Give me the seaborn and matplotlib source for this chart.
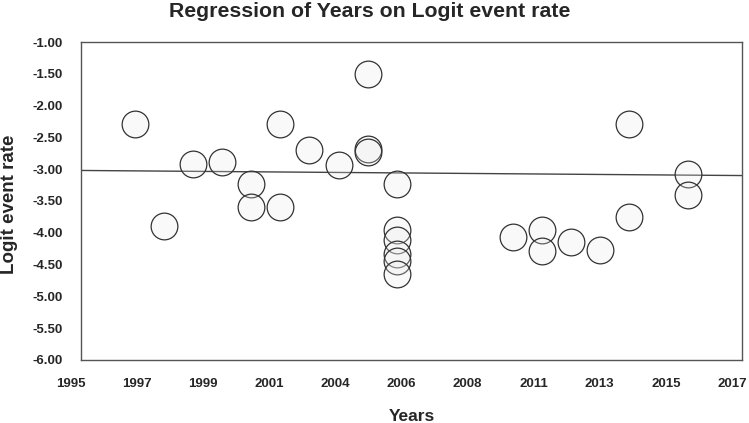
import numpy as np
import pandas as pd
import matplotlib
matplotlib.use("Agg")
import matplotlib.pyplot as plt
import matplotlib.transforms as mtransforms
import seaborn as sns

# Study points (year, logit event rate)
years = [1996.81, 1997.77, 1998.74, 1999.70, 2000.67, 2000.67, 2001.63, 2001.63,
         2002.60, 2003.58, 2004.55, 2004.55, 2004.55, 2005.52, 2005.52, 2005.52,
         2005.52, 2005.52, 2005.52, 2009.38, 2010.34, 2010.34, 2011.31, 2012.27,
         2013.25, 2013.25, 2015.19, 2015.19]
logit_rate = [-2.29, -3.89, -2.92, -2.89, -3.23, -3.59, -2.29, -3.59,
              -2.70, -2.93, -1.50, -2.68, -2.73, -3.23, -3.96, -4.12,
              -4.33, -4.44, -4.65, -4.06, -3.96, -4.29, -4.14, -4.27,
              -2.29, -3.75, -3.08, -3.41]

# Fitted regression line end points
reg_x = [1995, 2017]
reg_y = [-3.02, -3.10]

x_ticks = np.linspace(1995, 2017, 11)
x_labels = ['1995', '1997', '1999', '2001', '2004', '2006', '2008', '2011', '2013', '2015', '2017']
y_ticks = np.arange(-6.0, -0.99, 0.5)

df = pd.DataFrame({'year': years, 'logit': logit_rate})

sns.set_style('white')
plt.rcParams['font.family'] = ['Liberation Sans', 'DejaVu Sans']

fig = plt.figure(figsize=(7.49, 4.23), dpi=100)
ax = fig.add_axes([0.108, 0.149, 0.8827, 0.7517])

ax.plot(reg_x, reg_y, color='#444444', lw=1.0, zorder=1)
sns.scatterplot(data=df, x='year', y='logit', ax=ax, s=370, marker='o',
                facecolor=(0.92, 0.92, 0.92, 0.25), edgecolor='#333333',
                linewidth=0.9, zorder=2, legend=False)

ax.set_xlim(1995, 2017)
ax.set_ylim(-6.0, -1.0)
ax.set_xticks(x_ticks)
ax.set_xticklabels(x_labels)
ax.set_yticks(y_ticks)
ax.set_yticklabels([f'{v:.2f}' for v in y_ticks])

ax.tick_params(axis='y', direction='out', length=7, width=0.8, color='#666666', pad=6)
ax.tick_params(axis='x', direction='out', length=3, width=0.8, color='#666666', pad=10)

for lab in ax.get_xticklabels() + ax.get_yticklabels():
    lab.set_fontweight('bold')
    lab.set_fontsize(9.5)

# the year labels sit a little left of their ticks in the original
shift = mtransforms.ScaledTranslation(-10 / 100, 0, fig.dpi_scale_trans)
for tick in ax.xaxis.get_major_ticks():
    tick.label1.set_transform(tick.label1.get_transform() + shift)

for sp in ax.spines.values():
    sp.set_visible(True)
    sp.set_color('#555555')
    sp.set_linewidth(1.0)

ax.set_xlabel('Years', fontsize=12.5, fontweight='bold', labelpad=14)
ax.set_ylabel('Logit event rate', fontsize=13.5, fontweight='bold')
ax.yaxis.set_label_coords(-0.095, 0.49)

fig.text(0.494, 0.995, 'Regression of Years on Logit event rate',
         ha='center', va='top', fontsize=15.3, fontweight='bold')

fig.savefig('out.png', dpi=100)
